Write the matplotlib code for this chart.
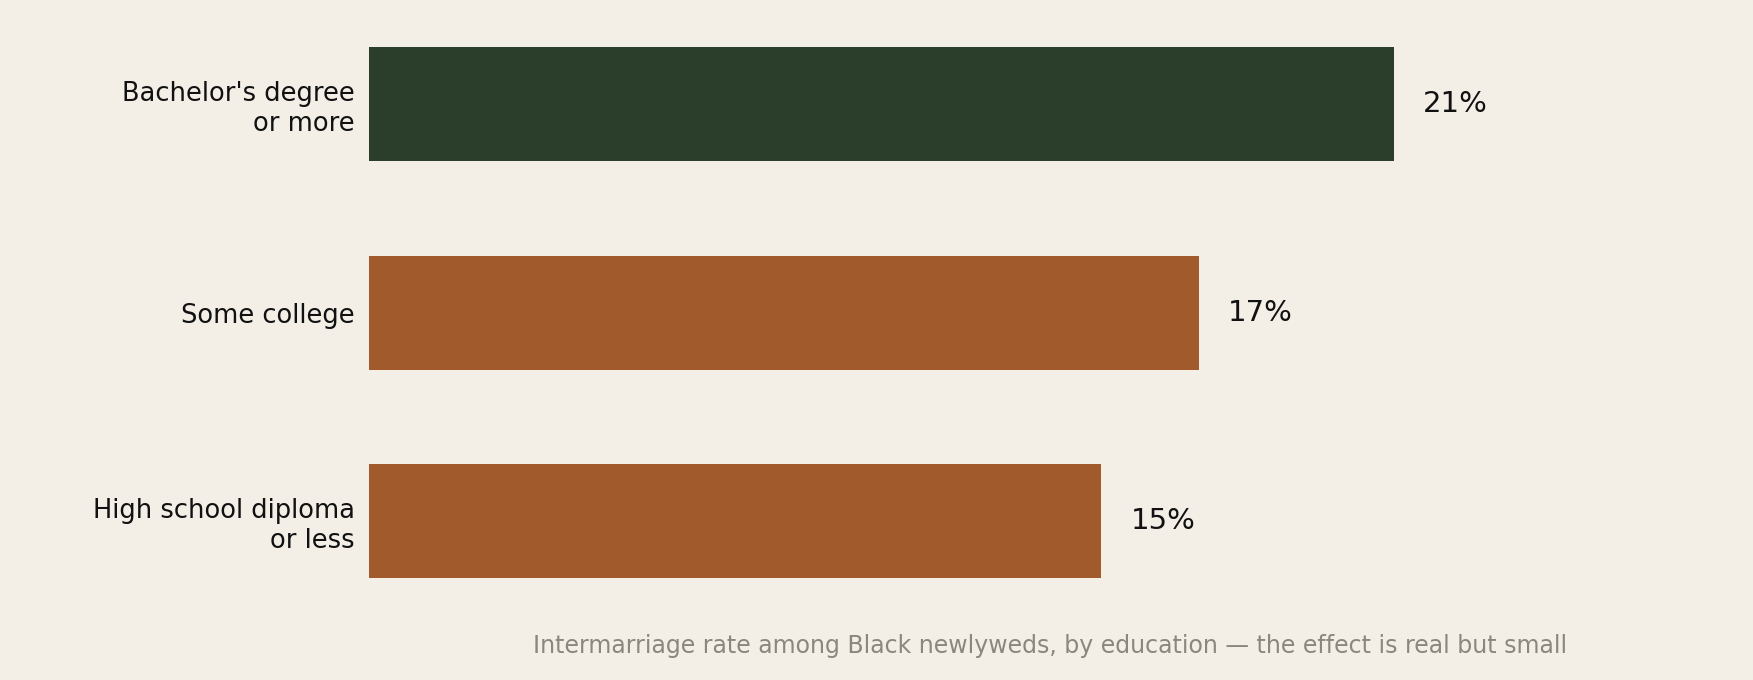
import matplotlib
matplotlib.use("Agg")
import matplotlib.pyplot as plt

categories = ["Bachelor's degree\nor more", "Some college", "High school diploma\nor less"]
values = [21, 17, 15]
colors = ["#2b3d2b", "#a05a2c", "#a05a2c"]
caption = "Intermarriage rate among Black newlyweds, by education — the effect is real but small"

bg = "#f3efe7"
fig = plt.figure(figsize=(17.53, 6.8), dpi=100, facecolor=bg)
ax = fig.add_axes([369/1753, 0.08, 1 - 369/1753 - 0.01, 0.92])
ax.set_facecolor(bg)
y = list(range(len(categories)))
ax.barh(y, values, height=0.546, color=colors)
for yi, v in zip(y, values):
    ax.text(v + 0.6, yi, f"{v}%", va="center", ha="left", fontsize=21, color="#111111")
ax.set_yticks(y)
ax.set_yticklabels(categories, fontsize=18.5, color="#111111")
ax.tick_params(axis="y", length=0, pad=10)
ax.set_xticks([])
ax.set_xlim(0, 28)
ax.set_ylim(2.5, -0.5)
for s in ax.spines.values():
    s.set_visible(False)
fig.text(1050/1753, 1 - 646/680, caption, ha="center", va="center", fontsize=17, color="#8a877c")
fig.savefig("out.png", dpi=100, facecolor=bg)
